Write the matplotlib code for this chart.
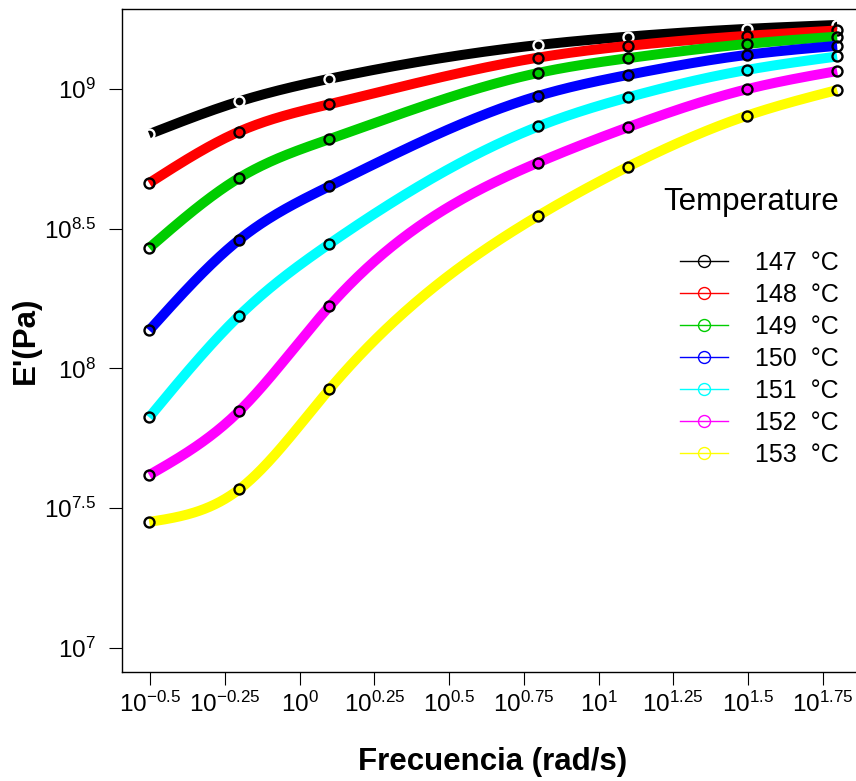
import numpy as np
import matplotlib
matplotlib.use("Agg")
import matplotlib.pyplot as plt
from matplotlib.lines import Line2D
from matplotlib.ticker import FixedLocator, NullLocator, FixedFormatter

plt.rcParams['font.family'] = ['Liberation Sans', 'DejaVu Sans']
plt.rcParams['mathtext.fontset'] = 'custom'
plt.rcParams['mathtext.rm'] = 'Liberation Sans'
plt.rcParams['mathtext.it'] = 'Liberation Sans:italic'
plt.rcParams['mathtext.bf'] = 'Liberation Sans:bold'

# ---------------- data ----------------
frequency = [0.314, 0.628, 1.257, 6.283, 12.566, 31.416, 62.832]  # rad/s
temperatures = [147, 148, 149, 150, 151, 152, 153]
colors = ['#000000', '#FF0000', '#00CD00', '#0000FF', '#00FFFF', '#FF00FF', '#FFFF00']
E_147 = [6.90e8, 9.04e8, 1.089e9, 1.439e9, 1.542e9, 1.644e9, 1.698e9]
E_148 = [4.61e8, 7.05e8, 8.83e8, 1.297e9, 1.429e9, 1.552e9, 1.622e9]
E_149 = [2.70e8, 4.81e8, 6.62e8, 1.143e9, 1.291e9, 1.452e9, 1.542e9]
E_150 = [1.368e8, 2.89e8, 4.49e8, 9.46e8, 1.125e9, 1.327e9, 1.429e9]
E_151 = [6.68e7, 1.545e8, 2.79e8, 7.35e8, 9.35e8, 1.172e9, 1.309e9]
E_152 = [4.15e7, 7.03e7, 1.667e8, 5.46e8, 7.31e8, 1.000e9, 1.161e9]
E_153 = [2.82e7, 3.69e7, 8.41e7, 3.52e8, 5.28e8, 8.04e8, 9.93e8]
series = [E_147, E_148, E_149, E_150, E_151, E_152, E_153]
x_tick_exponents = [-0.5, -0.25, 0, 0.25, 0.5, 0.75, 1, 1.25, 1.5, 1.75]
y_tick_exponents = [7, 7.5, 8, 8.5, 9]


def natural_spline(x, y, xout):
    """Natural cubic interpolating spline."""
    x = np.asarray(x, float); y = np.asarray(y, float)
    n = len(x)
    h = np.diff(x)
    A = np.zeros((n, n)); r = np.zeros(n)
    A[0, 0] = 1.0; A[-1, -1] = 1.0
    for i in range(1, n - 1):
        A[i, i - 1] = h[i - 1]
        A[i, i] = 2 * (h[i - 1] + h[i])
        A[i, i + 1] = h[i]
        r[i] = 3 * ((y[i + 1] - y[i]) / h[i] - (y[i] - y[i - 1]) / h[i - 1])
    c = np.linalg.solve(A, r)
    b = (y[1:] - y[:-1]) / h - h * (2 * c[:-1] + c[1:]) / 3
    d = (c[1:] - c[:-1]) / (3 * h)
    idx = np.clip(np.searchsorted(x, xout, side='right') - 1, 0, n - 2)
    dx = xout - x[idx]
    return y[idx] + dx * (b[idx] + dx * (c[idx] + dx * d[idx]))


W, H, DPI = 856, 781, 100
fig = plt.figure(figsize=(W / DPI, H / DPI), dpi=DPI)

left_px, right_px, top_px, bottom_px = 121.7, 864.0, 9.0, 671.7
ax = fig.add_axes([left_px / W, 1 - bottom_px / H,
                   (right_px - left_px) / W, (bottom_px - top_px) / H])
ax.set_xscale('log')
ax.set_yscale('log')

lx = np.log10(frequency)
xx = np.linspace(lx[0], lx[-1], 400)
z = 2
for temp, col, vals in zip(temperatures, colors, series):
    ly = np.log10(vals)
    yy = natural_spline(lx, ly, xx)
    ax.plot(10 ** xx, 10 ** yy, color=col, lw=7.2, solid_capstyle='butt', zorder=z)
    edge = 'white' if col == '#000000' else 'black'
    ax.plot(frequency, vals, linestyle='none', marker='o', ms=7.2, mfc='none',
            mec=edge, mew=1.7, zorder=z + 1)
    z += 2

ax.set_xlim(10 ** -0.595, 10 ** 1.888)
ax.set_ylim(10 ** 6.914, 10 ** 9.287)


def exp_label(e):
    s = ('%g' % e).replace('-', '\u2212')
    return r'$10^{%s}$' % s

ax.xaxis.set_major_locator(FixedLocator([10 ** e for e in x_tick_exponents]))
ax.xaxis.set_major_formatter(FixedFormatter([exp_label(e) for e in x_tick_exponents]))
ax.xaxis.set_minor_locator(NullLocator())
ax.yaxis.set_major_locator(FixedLocator([10 ** e for e in y_tick_exponents]))
ax.yaxis.set_major_formatter(FixedFormatter([exp_label(e) for e in y_tick_exponents]))
ax.yaxis.set_minor_locator(NullLocator())

ax.tick_params(axis='both', which='major', direction='out', length=9.5, width=0.8,
               labelsize=17.5, color='black')
ax.tick_params(axis='x', pad=5)
ax.tick_params(axis='y', pad=9)
for sp in ax.spines.values():
    sp.set_linewidth(1.0)

ax.set_xlabel('Frecuencia (rad/s)', fontsize=22.5, fontweight='bold')
ax.set_ylabel("E'(Pa)", fontsize=22.5, fontweight='bold')
ax.xaxis.set_label_coords(0.5, (bottom_px - 747) / (bottom_px - top_px))
ax.yaxis.set_label_coords((41 - left_px) / (right_px - left_px), 0.5)

# legend
handles = [Line2D([], [], color=c, lw=1.0, marker='o', ms=8.6, mfc='none', mec=c, mew=1.0)
           for c in colors]
labels = ['%d  \u00b0C' % t for t in temperatures]
leg = ax.legend(handles, labels, loc='upper left', bbox_to_anchor=(680 / W, 1 - 251 / H),
                bbox_transform=fig.transFigure, frameon=False, fontsize=18,
                handlelength=1.92, handletextpad=1.08, labelspacing=0.32,
                borderpad=0, borderaxespad=0)
leg.set_zorder(30)
fig.text(839 / W, 1 - 202 / H, 'Temperature', ha='right', va='center', fontsize=22.5)

fig.savefig('out.png', dpi=DPI)
